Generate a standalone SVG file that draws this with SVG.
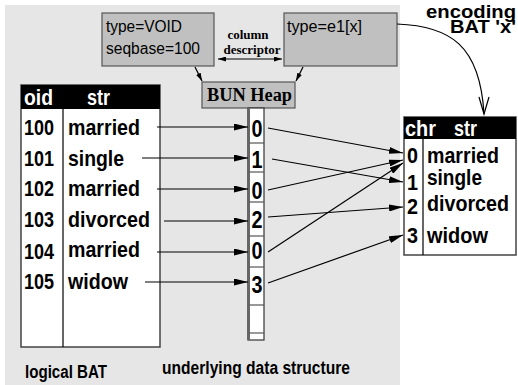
<svg xmlns="http://www.w3.org/2000/svg" width="518" height="385" viewBox="0 0 518 385">
<defs>
<style>
.t{font-family:"Liberation Sans Narrow","Liberation Sans",Arial,sans-serif;font-weight:bold;fill:#000}
.tb{font-size:22px}
.hd{font-size:22px;fill:#fff}
.hp{font-size:24px}
.bx{font-family:"Liberation Sans",Arial,sans-serif;font-size:16px;fill:#000}
.sf{font-family:"Liberation Serif","Times New Roman",serif;font-weight:bold;fill:#000}
.gbox{fill:#c0c0c0;stroke:#555;stroke-width:1.2}
.tbl{fill:#fff;stroke:#444;stroke-width:1.5}
.ln{stroke:#000;stroke-width:1.2;fill:none}
.dv{stroke:#555;stroke-width:1.2}
</style>
<marker id="ah" viewBox="0 0 14 7" refX="14" refY="3.5" markerWidth="14" markerHeight="7" markerUnits="userSpaceOnUse" orient="auto">
<path d="M0,0 L14,3.5 L0,7 Z" fill="#000"/>
</marker>
<marker id="as" viewBox="0 0 8 5" refX="8" refY="2.5" markerWidth="8" markerHeight="5" markerUnits="userSpaceOnUse" orient="auto-start-reverse">
<path d="M0,0 L8,2.5 L0,5 Z" fill="#000"/>
</marker>
</defs>
<rect x="5" y="5" width="395" height="380" fill="#e6e6e6"/>

<g id="desc-void">
<rect class="gbox" x="102" y="13" width="112" height="53"/>
<text class="bx" x="106" y="32" textLength="76" lengthAdjust="spacingAndGlyphs">type=VOID</text>
<text class="bx" x="106" y="54" textLength="94" lengthAdjust="spacingAndGlyphs">seqbase=100</text>
</g>
<g id="desc-e1">
<rect class="gbox" x="284" y="13" width="113" height="53"/>
<text class="bx" x="287" y="32" textLength="75" lengthAdjust="spacingAndGlyphs">type=e1[x]</text>
</g>
<g id="col-desc-label">
<text class="sf" x="248" y="39" font-size="13" text-anchor="middle">column</text>
<text class="sf" x="252" y="54" font-size="13" text-anchor="middle">descriptor</text>
</g>
<g id="bun-heap">
<rect class="gbox" x="202" y="82" width="93" height="26"/>
<text class="sf" x="207" y="101" font-size="18" textLength="85" lengthAdjust="spacingAndGlyphs">BUN Heap</text>
<rect x="248" y="108" width="16" height="232" fill="#fff" stroke="#333" stroke-width="1.2"/>
<line x1="248.5" y1="108" x2="248.5" y2="340" stroke="#666" stroke-width="3"/>
<line class="dv" x1="249" y1="143" x2="264" y2="143"/>
<line class="dv" x1="249" y1="172" x2="264" y2="172"/>
<line class="dv" x1="249" y1="202" x2="264" y2="202"/>
<line class="dv" x1="249" y1="236" x2="264" y2="236"/>
<line class="dv" x1="249" y1="267" x2="264" y2="267"/>
<line class="dv" x1="249" y1="305" x2="264" y2="305"/>
<line class="dv" x1="249" y1="333" x2="264" y2="333"/>
<text class="t hp" x="251.5" y="137" textLength="11" lengthAdjust="spacingAndGlyphs">0</text>
<text class="t hp" x="251.5" y="168" textLength="11" lengthAdjust="spacingAndGlyphs">1</text>
<text class="t hp" x="251.5" y="199" textLength="11" lengthAdjust="spacingAndGlyphs">0</text>
<text class="t hp" x="251.5" y="228" textLength="11" lengthAdjust="spacingAndGlyphs">2</text>
<text class="t hp" x="251.5" y="259" textLength="11" lengthAdjust="spacingAndGlyphs">0</text>
<text class="t hp" x="251.5" y="293" textLength="11" lengthAdjust="spacingAndGlyphs">3</text>
</g>
<g id="logical-bat">
<rect class="tbl" x="21" y="85" width="139" height="262"/>
<rect x="21" y="85" width="139" height="24" fill="#000"/>
<line x1="63" y1="109" x2="63" y2="347" stroke="#000" stroke-width="1.2"/>
<text class="t hd" x="24" y="105" textLength="29" lengthAdjust="spacingAndGlyphs">oid</text>
<text class="t hd" x="87" y="105" textLength="23" lengthAdjust="spacingAndGlyphs">str</text>
<text class="t tb" x="24" y="135" textLength="30" lengthAdjust="spacingAndGlyphs">100</text>
<text class="t tb" x="68" y="135" textLength="72" lengthAdjust="spacingAndGlyphs">married</text>
<text class="t tb" x="24" y="166" textLength="30" lengthAdjust="spacingAndGlyphs">101</text>
<text class="t tb" x="68" y="166" textLength="56" lengthAdjust="spacingAndGlyphs">single</text>
<text class="t tb" x="24" y="196" textLength="30" lengthAdjust="spacingAndGlyphs">102</text>
<text class="t tb" x="68" y="196" textLength="72" lengthAdjust="spacingAndGlyphs">married</text>
<text class="t tb" x="24" y="227" textLength="30" lengthAdjust="spacingAndGlyphs">103</text>
<text class="t tb" x="68" y="227" textLength="82" lengthAdjust="spacingAndGlyphs">divorced</text>
<text class="t tb" x="24" y="259" textLength="30" lengthAdjust="spacingAndGlyphs">104</text>
<text class="t tb" x="68" y="257" textLength="72" lengthAdjust="spacingAndGlyphs">married</text>
<text class="t tb" x="24" y="289" textLength="30" lengthAdjust="spacingAndGlyphs">105</text>
<text class="t tb" x="68" y="289" textLength="60" lengthAdjust="spacingAndGlyphs">widow</text>
</g>
<g id="encoding-bat">
<rect class="tbl" x="404" y="117" width="112" height="138"/>
<rect x="404" y="117" width="112" height="22" fill="#000"/>
<line x1="423" y1="139" x2="423" y2="255" stroke="#000" stroke-width="1.2"/>
<text class="t hd" x="405" y="136" textLength="31" lengthAdjust="spacingAndGlyphs">chr</text>
<text class="t hd" x="454" y="136" textLength="23" lengthAdjust="spacingAndGlyphs">str</text>
<text class="t tb" x="407" y="163" textLength="11" lengthAdjust="spacingAndGlyphs">0</text>
<text class="t tb" x="427" y="163" textLength="72" lengthAdjust="spacingAndGlyphs">married</text>
<text class="t tb" x="407" y="190" textLength="11" lengthAdjust="spacingAndGlyphs">1</text>
<text class="t tb" x="427" y="185" textLength="55" lengthAdjust="spacingAndGlyphs">single</text>
<text class="t tb" x="407" y="214" textLength="11" lengthAdjust="spacingAndGlyphs">2</text>
<text class="t tb" x="427" y="211" textLength="82" lengthAdjust="spacingAndGlyphs">divorced</text>
<text class="t tb" x="407" y="243" textLength="11" lengthAdjust="spacingAndGlyphs">3</text>
<text class="t tb" x="427" y="243" textLength="61" lengthAdjust="spacingAndGlyphs">widow</text>
</g>
<g id="labels">
<text class="t" x="426" y="18" font-size="18" textLength="90" lengthAdjust="spacingAndGlyphs">encoding</text>
<text class="t" x="450" y="33" font-size="18" textLength="66" lengthAdjust="spacingAndGlyphs">BAT 'x'</text>
<text class="t" x="25" y="378" font-size="18" textLength="82" lengthAdjust="spacingAndGlyphs">logical BAT</text>
<text class="t" x="162" y="374" font-size="18" textLength="188" lengthAdjust="spacingAndGlyphs">underlying data structure</text>
</g>
<g id="connectors">
<line class="ln" x1="218" y1="59" x2="282" y2="59" marker-start="url(#as)" marker-end="url(#as)"/>
<line class="ln" x1="195" y1="67" x2="202" y2="81" marker-end="url(#as)"/>
<line class="ln" x1="303" y1="67" x2="296" y2="81" marker-end="url(#as)"/>
<path class="ln" d="M397,24 C450,26 480,45 484,114"/>
<path class="ln" d="M479,97 L484,114 L489,97"/>
<line class="ln" x1="157" y1="127" x2="248" y2="127" marker-end="url(#ah)"/>
<line class="ln" x1="142" y1="158" x2="248" y2="158" marker-end="url(#ah)"/>
<line class="ln" x1="157" y1="189" x2="248" y2="189" marker-end="url(#ah)"/>
<line class="ln" x1="164" y1="221" x2="248" y2="221" marker-end="url(#ah)"/>
<line class="ln" x1="157" y1="252" x2="248" y2="252" marker-end="url(#ah)"/>
<line class="ln" x1="145" y1="282" x2="248" y2="282" marker-end="url(#ah)"/>
<line class="ln" x1="268" y1="128" x2="403" y2="153" marker-end="url(#ah)"/>
<line class="ln" x1="272" y1="159" x2="403" y2="182" marker-end="url(#ah)"/>
<line class="ln" x1="268" y1="190" x2="403" y2="160" marker-end="url(#ah)"/>
<line class="ln" x1="268" y1="217" x2="403" y2="207" marker-end="url(#ah)"/>
<line class="ln" x1="268" y1="252" x2="403" y2="163" marker-end="url(#ah)"/>
<line class="ln" x1="268" y1="283" x2="403" y2="235" marker-end="url(#ah)"/>
</g>
</svg>
